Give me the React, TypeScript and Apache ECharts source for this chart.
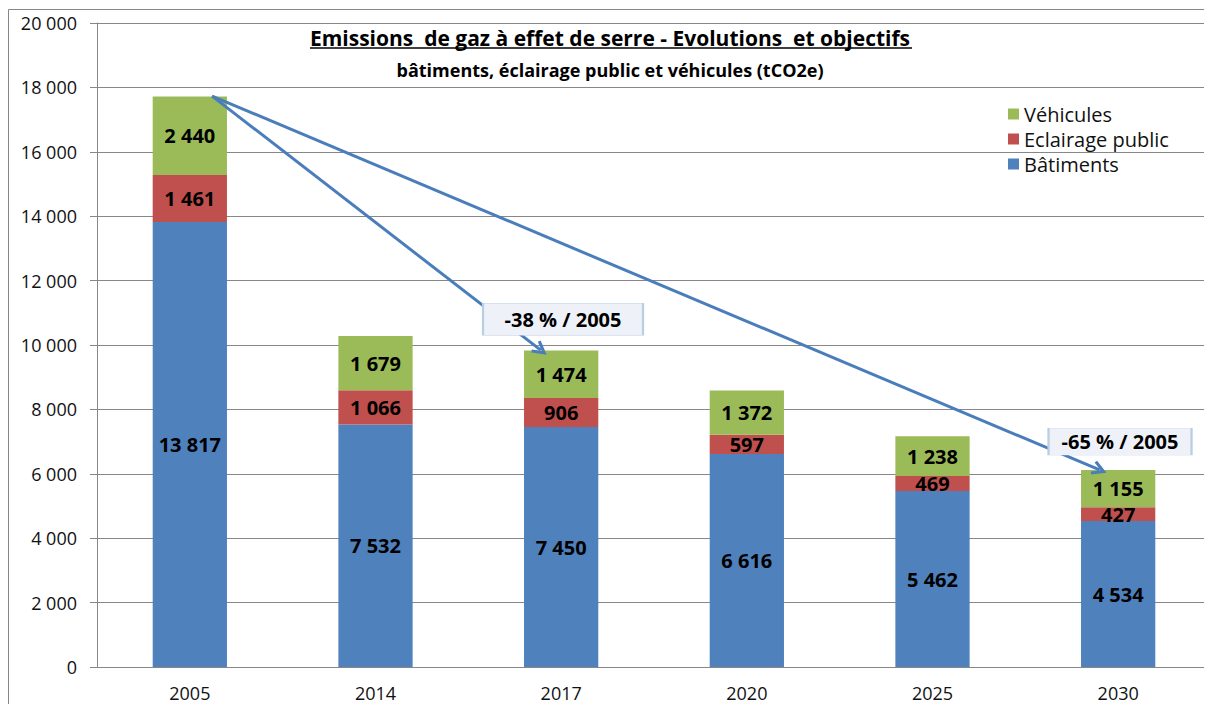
import React, { useEffect, useRef } from "react";
import * as echarts from "echarts";

const categories = ["2005", "2014", "2017", "2020", "2025", "2030"];
const batiments = [13817, 7532, 7450, 6616, 5462, 4534];
const eclairage = [1461, 1066, 906, 597, 469, 427];
const vehicules = [2440, 1679, 1474, 1372, 1238, 1155];
const yTicks = { min: 0, max: 20000, interval: 2000 };

// annotation arrows in data space (x = category index, y = tCO2e)
const arrowLines = [
  { from: [0.12, 17730], to: [1.89, 9840] },
  { from: [0.12, 17730], to: [4.9, 6120] },
];
const annotations = [
  { text: "-38 % / 2005", at: [2.01, 10800], size: [160, 32] },
  { text: "-65 % / 2005", at: [5.01, 7000], size: [143, 27] },
];

const FONT = "'Open Sans', 'Noto Sans', sans-serif";
const fmt = (v: number) => String(v).replace(/\B(?=(\d{3})+(?!\d))/g, " ");
const ARROW = "path://M5,0 L10,8.5 L8.3,9.5 L5,4 L1.7,9.5 L0,8.5 Z";

export default function App() {
  const ref = useRef<HTMLDivElement>(null);
  useEffect(() => {
    document.body.style.overflow = "hidden";
    const chart = echarts.init(ref.current!, null, { renderer: "svg" });
    const barLabel = {
      show: true,
      position: "inside",
      color: "#000",
      fontFamily: FONT,
      fontWeight: "bold",
      fontSize: 20,
      formatter: (p: any) => fmt(p.value),
    };
    chart.setOption({
      animation: false,
      textStyle: { fontFamily: FONT },
      graphic: [
        {
          type: "rect",
          shape: { x: 0.5, y: 1.5, width: 1300, height: 800 },
          style: { fill: "none", stroke: "#878787", lineWidth: 1 },
          silent: true,
        },
        {
          type: "line",
          shape: { x1: 302, y1: 40, x2: 904, y2: 40 },
          style: { stroke: "#000", lineWidth: 1.5 },
          silent: true,
        },
      ],
      title: [
        {
          text: "Emissions  de gaz à effet de serre - Evolutions  et objectifs",
          left: "center",
          top: 14,
          textStyle: { fontFamily: FONT, fontWeight: "bold", fontSize: 21, color: "#000" },
        },
        {
          text: "bâtiments, éclairage public et véhicules (tCO2e)",
          left: "center",
          top: 48,
          textStyle: { fontFamily: FONT, fontWeight: "bold", fontSize: 18, color: "#000" },
        },
      ],
      legend: {
        orient: "vertical",
        left: 995,
        top: 91,
        icon: "rect",
        itemWidth: 11,
        itemHeight: 11,
        itemGap: 5,
        data: ["Véhicules", "Eclairage public", "Bâtiments"],
        textStyle: { fontFamily: FONT, fontSize: 20, color: "#111", lineHeight: 20 },
      },
      grid: { left: 89, top: 15, right: 1, bottom: 37, containLabel: false },
      xAxis: [
        {
          type: "category",
          data: categories,
          axisLine: { lineStyle: { color: "#878787" } },
          axisTick: { length: 6, lineStyle: { color: "#878787" } },
          axisLabel: { color: "#111", fontSize: 18, margin: 17, fontFamily: FONT },
        },
        { type: "value", min: -0.5, max: 5.5, show: false },
      ],
      yAxis: {
        type: "value",
        ...yTicks,
        axisLine: { show: true, onZero: false, lineStyle: { color: "#878787" } },
        axisTick: { show: true, length: 7, lineStyle: { color: "#878787" } },
        splitLine: { lineStyle: { color: "#878787" } },
        axisLabel: { color: "#111", fontSize: 18, margin: 20, fontFamily: FONT, formatter: fmt },
      },
      series: [
        { name: "Bâtiments", type: "bar", stack: "t", data: batiments, barWidth: "40%", itemStyle: { color: "#4F81BD" }, label: barLabel },
        { name: "Eclairage public", type: "bar", stack: "t", data: eclairage, itemStyle: { color: "#C0504D" }, label: barLabel },
        { name: "Véhicules", type: "bar", stack: "t", data: vehicules, itemStyle: { color: "#9BBB59" }, label: barLabel },
        {
          name: "annot",
          type: "scatter",
          xAxisIndex: 1,
          yAxisIndex: 0,
          data: [],
          silent: true,
          markLine: {
            silent: true,
            symbol: ["none", ARROW],
            symbolSize: [15, 15],
            label: { show: false },
            lineStyle: { color: "#4A7EBB", width: 3, type: "solid" },
            data: arrowLines.map((a) => [{ coord: a.from }, { coord: a.to }]),
          },
          markPoint: {
            silent: true,
            data: annotations.map((a) => ({
              coord: a.at,
              symbol: "rect",
              symbolSize: a.size,
              itemStyle: { color: "#EEF2F8", borderColor: "#B9CDE5", borderWidth: 1 },
              label: {
                show: true,
                position: "inside",
                formatter: a.text,
                color: "#000",
                fontFamily: FONT,
                fontWeight: "bold",
                fontSize: 20,
              },
            })),
          },
        },
      ],
    });
    return () => chart.dispose();
  }, []);
  return <div ref={ref} style={{ width: 1204, height: 696 }} />;
}
